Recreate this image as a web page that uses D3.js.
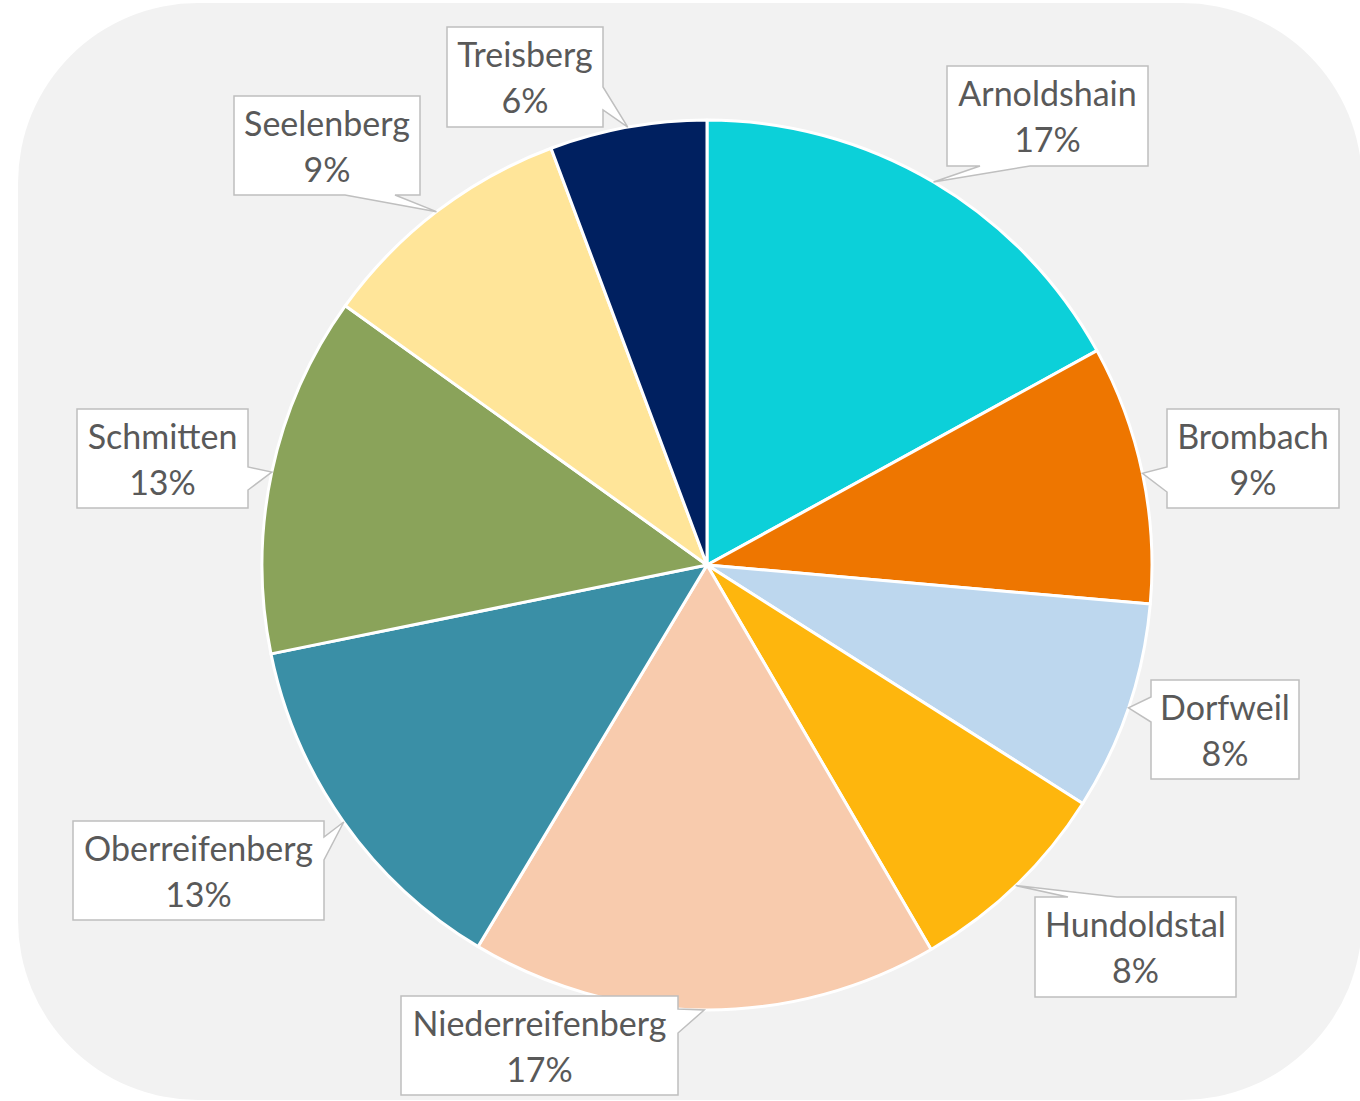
<!DOCTYPE html>
<html>
<head>
<meta charset="utf-8">
<script src="https://cdn.jsdelivr.net/npm/d3@7"></script>
<style>
    html, body { margin: 0; padding: 0; background: #ffffff; }
    svg { display: block; }
</style>
</head>
<body>
<div id="chart"></div>
<script>
// Données (parts estimées depuis l'image)
const places = ["Arnoldshain", "Brombach", "Dorfweil", "Hundoldstal", "Niederreifenberg",
    "Oberreifenberg", "Schmitten", "Seelenberg", "Treisberg"];
const shares = [17.0, 9.4, 7.6, 7.6, 17.0, 13.2, 13.1, 9.4, 5.7];
const sliceColors = ["#0cd0d9", "#ee7600", "#bdd7ee", "#feb60d", "#f8cbad",
    "#3a8fa6", "#8aa35a", "#ffe599", "#002060"];

// Position des étiquettes (boîte + base de la flèche)
const labelBoxes = [
    { x: 947, y: 66, w: 201, h: 100, side: "bottom", a: 980, b: 1030 },
    { x: 1167, y: 409, w: 172, h: 99, side: "left", a: 467, b: 492 },
    { x: 1151, y: 680, w: 148, h: 99, side: "left", a: 697, b: 722 },
    { x: 1035, y: 897, w: 201, h: 100, side: "top", a: 1068, b: 1117 },
    { x: 401, y: 996, w: 277, h: 99, side: "right", a: 1009, b: 1033 },
    { x: 73, y: 821, w: 251, h: 99, side: "right", a: 837, b: 860 },
    { x: 77, y: 409, w: 171, h: 99, side: "right", a: 467, b: 490 },
    { x: 234, y: 96, w: 186, h: 99, side: "bottom", a: 345, b: 395 },
    { x: 447, y: 27, w: 156, h: 100, side: "right", a: 87, b: 110 }
];

const width = 1360, height = 1101;
const cx = 707, cy = 565, radius = 445;

const svg = d3.select("#chart").append("svg")
    .attr("width", width)
    .attr("height", height);

// Fond arrondi
svg.append("rect")
    .attr("x", 18).attr("y", 3)
    .attr("width", 1344).attr("height", 1097)
    .attr("rx", 180).attr("ry", 180)
    .attr("fill", "#f2f2f2");

const data = places.map((p, i) => ({ name: p, value: shares[i], color: sliceColors[i], box: labelBoxes[i] }));
const total = d3.sum(shares);
const pct = d3.format(".0%");

const pie = d3.pie().value(d => d.value).sort(null);
const arc = d3.arc().innerRadius(0).outerRadius(radius);

const g = svg.append("g").attr("transform", `translate(${cx},${cy})`);

const arcs = pie(data);

g.selectAll("path.slice")
    .data(arcs)
    .join("path")
    .attr("class", "slice")
    .attr("d", arc)
    .attr("fill", d => d.data.color)
    .attr("stroke", "#ffffff")
    .attr("stroke-width", 3)
    .attr("stroke-linejoin", "round");

// Bulle avec flèche vers le milieu de la part
function calloutPath(bx, tip) {
    const x1 = bx.x, y1 = bx.y, x2 = bx.x + bx.w, y2 = bx.y + bx.h;
    const t = `L${tip[0]},${tip[1]}`;
    let p = `M${x1},${y1}`;
    if (bx.side === "top") p += `L${bx.a},${y1}${t}L${bx.b},${y1}`;
    p += `L${x2},${y1}`;
    if (bx.side === "right") p += `L${x2},${bx.a}${t}L${x2},${bx.b}`;
    p += `L${x2},${y2}`;
    if (bx.side === "bottom") p += `L${bx.b},${y2}${t}L${bx.a},${y2}`;
    p += `L${x1},${y2}`;
    if (bx.side === "left") p += `L${x1},${bx.b}${t}L${x1},${bx.a}`;
    return p + "Z";
}

const labels = svg.append("g").attr("class", "labels");

arcs.forEach(d => {
    const mid = (d.startAngle + d.endAngle) / 2;
    const tip = [cx + radius * Math.sin(mid), cy - radius * Math.cos(mid)];
    const bx = d.data.box;

    labels.append("path")
        .attr("d", calloutPath(bx, tip))
        .attr("fill", "#ffffff")
        .attr("stroke", "#bfbfbf")
        .attr("stroke-width", 1.5)
        .attr("stroke-linejoin", "miter");

    const tx = bx.x + bx.w / 2, ty = bx.y + bx.h / 2;
    const txt = labels.append("text")
        .attr("x", tx)
        .attr("text-anchor", "middle")
        .style("font-family", "Lato, 'Open Sans', sans-serif")
        .style("font-size", "34px")
        .style("fill", "#595959");
    txt.append("tspan").attr("x", tx).attr("y", ty - 10).text(d.data.name);
    txt.append("tspan").attr("x", tx).attr("y", ty + 36).text(pct(d.data.value / total));
});
</script>
</body>
</html>
